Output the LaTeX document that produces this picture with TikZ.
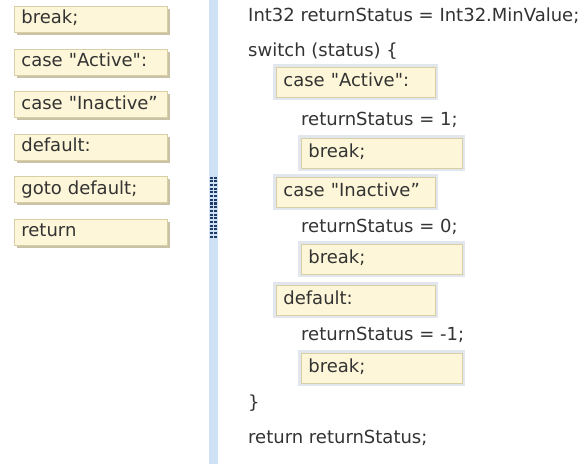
\documentclass[tikz,border=0pt]{standalone}
\usepackage{fontspec}
\setmainfont{DejaVu Sans}[Ligatures=TeXOff]
\usetikzlibrary{shadows}

\definecolor{chipfill}{HTML}{FDF6D8}
\definecolor{chipline}{HTML}{D9CFA6}
\definecolor{chipshade}{HTML}{C9C2A6}
\definecolor{slotframe}{HTML}{E2E7EE}
\definecolor{barblue}{HTML}{CFE2F5}
\definecolor{grip}{HTML}{1F3A66}
\definecolor{codegray}{HTML}{333333}

\tikzset{
  chip/.style={draw=chipline, fill=chipfill, line width=0.8pt,
    anchor=north west, minimum width=153pt, minimum height=26pt,
    text width=139pt, text height=13pt, text depth=4pt,
    inner xsep=7pt, inner ysep=0pt, align=left,
    drop shadow={shadow xshift=2.5pt, shadow yshift=-2.5pt,
      fill=chipshade, opacity=1}},
  slot/.style={draw=chipline, fill=chipfill, line width=0.8pt,
    preaction={draw=slotframe, line width=6pt},
    anchor=north west, minimum width=#1, minimum height=30pt,
    text width=#1-14pt, text height=13pt, text depth=4pt,
    inner xsep=7pt, inner ysep=0pt, align=left},
  code/.style={anchor=base west, inner sep=0pt}
}

\begin{document}
\begin{tikzpicture}[x=1pt, y=-1pt, font=\fontsize{18}{21}\selectfont,
  every node/.append style={text=codegray}]
  \useasboundingbox (0,0) rectangle (584,464);
  \fill[white] (0,0) rectangle (584,464);

  %--- common coords
  \def\codex{248}\def\casex{276}\def\bodyx{301}

  %==================== choices panel ====================
  \foreach \lbl [count=\i] in {break;, case "Active":, case "Inactive”,
      default:, goto default;, return}
    \node[chip] (choice\i) at (14,{6+(\i-1)*42.6}) {\lbl};

  % splitter bar with grip
  \fill[barblue] (209,0) rectangle (218,464);
  \foreach \r in {0,...,16}
    \foreach \c in {211.5,215.5}
      \fill[grip] (\c-1.2,{176.5+\r*3.7}) rectangle (\c+1.2,{178.6+\r*3.7});

  %==================== code panel ====================
  \node[code] (init) at (\codex,21) {Int32 returnStatus = Int32.MinValue;};
  \node[code] (switch) at (\codex,56) {switch (status) \{};

  % case "Active"
  \node[slot=159pt] (slotA) at (\casex,67) {case "Active":};
  \node[code] (setA) at (\bodyx,125) {returnStatus = 1;};
  \node[slot=161pt] (breakA) at (\bodyx,138) {break;};

  % case "Inactive"
  \node[slot=159pt] (slotB) at (\casex,177) {case "Inactive”};
  \node[code] (setB) at (\bodyx,232) {returnStatus = 0;};
  \node[slot=161pt] (breakB) at (\bodyx,244) {break;};

  % default
  \node[slot=159pt] (slotC) at (\casex,285) {default:};
  \node[code] (setC) at (\bodyx,340) {returnStatus = -1;};
  \node[slot=161pt] (breakC) at (\bodyx,353) {break;};

  \node[code] (close) at (\codex,408) {\}};
  \node[code] (ret) at (\codex,443) {return returnStatus;};
\end{tikzpicture}
\end{document}
